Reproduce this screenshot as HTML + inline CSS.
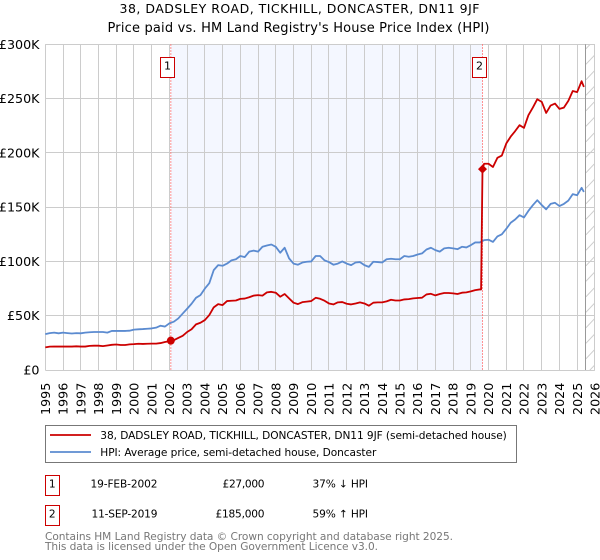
<!DOCTYPE html>
<html>
<head>
<meta charset="utf-8">
<title>38, Dadsley Road price chart</title>
<style>
html,body{margin:0;padding:0;background:#fff;}
svg{display:block;}
text{font-family:"DejaVu Sans","Liberation Sans",sans-serif;fill:#000;}
</style>
</head>
<body>
<svg id="chart" xmlns="http://www.w3.org/2000/svg" width="600" height="560" viewBox="0 0 600 560">
  <text x="119.5" y="13" font-size="12.5" textLength="360" lengthAdjust="spacing">38, DADSLEY ROAD, TICKHILL, DONCASTER, DN11 9JF</text>
  <text x="107.5" y="32" font-size="13" textLength="382" lengthAdjust="spacing">Price paid vs. HM Land Registry's House Price Index (HPI)</text>
  <g id="layer-band"></g>
  <g id="layer-grid"></g>
  <g id="layer-series"></g>
  <g id="layer-ticks"></g>

  <g>
    <rect x="45.5" y="425.5" width="471" height="37" fill="#fff" stroke="#777" stroke-width="1"/>
    <line x1="50" x2="91" y1="435" y2="435" stroke="#cc0000" stroke-width="1.8"/>
    <text x="100.3" y="439" font-size="10.6" textLength="406.5" lengthAdjust="spacing">38, DADSLEY ROAD, TICKHILL, DONCASTER, DN11 9JF (semi-detached house)</text>
    <line x1="50" x2="91" y1="452" y2="452" stroke="#5b8bd0" stroke-width="1.8"/>
    <text x="100.3" y="456" font-size="10.6" textLength="276" lengthAdjust="spacing">HPI: Average price, semi-detached house, Doncaster</text>
  </g>

  <g>
    <rect x="45.5" y="475.5" width="14" height="20" fill="#fff" stroke="#cc0000" stroke-width="1"/>
    <text x="52.3" y="487.5" text-anchor="middle" font-size="10.6">1</text>
    <text x="90.5" y="487.5" font-size="10.6" textLength="67" lengthAdjust="spacing">19-FEB-2002</text>
    <text x="222.5" y="487.5" font-size="10.6" textLength="42" lengthAdjust="spacing">£27,000</text>
    <text x="312.5" y="487.5" font-size="10.6" textLength="55.5" lengthAdjust="spacing">37% ↓ HPI</text>
    <rect x="45.5" y="505.5" width="14" height="20" fill="#fff" stroke="#cc0000" stroke-width="1"/>
    <text x="52.3" y="517.5" text-anchor="middle" font-size="10.6">2</text>
    <text x="91.5" y="517.5" font-size="10.6" textLength="66" lengthAdjust="spacing">11-SEP-2019</text>
    <text x="215.5" y="517.5" font-size="10.6" textLength="49" lengthAdjust="spacing">£185,000</text>
    <text x="312.5" y="517.5" font-size="10.6" textLength="55.5" lengthAdjust="spacing">59% ↑ HPI</text>
  </g>

  <text x="45" y="540" font-size="10.6" textLength="408" lengthAdjust="spacing" style="fill:#777">Contains HM Land Registry data © Crown copyright and database right 2025.</text>
  <text x="45" y="550" font-size="10.6" textLength="333" lengthAdjust="spacing" style="fill:#777">This data is licensed under the Open Government Licence v3.0.</text>
</svg>

<script>
// ---- chart data (values in thousands of pounds) ----
var xTickYears = [1995,1996,1997,1998,1999,2000,2001,2002,2003,2004,2005,2006,2007,2008,2009,2010,2011,2012,2013,2014,2015,2016,2017,2018,2019,2020,2021,2022,2023,2024,2025,2026];
var yTickValues = [0,50,100,150,200,250,300];
var yTickLabels = ['£0','£50K','£100K','£150K','£200K','£250K','£300K'];

var firstYear = 1995;
var stepYears = 0.25;
var lastDataYear = 2025.38;

// HPI: quarterly from 1995.00, final entry is the last data month
var hpiValues = [
33.0,34.0,34.4,33.8, 34.4,34.0,33.6,34.0, 33.8,34.4,34.8,35.0, 35.0,35.0,34.4,36.0,
36.0,36.0,36.0,36.2, 37.2,37.5,37.7,38.0, 38.3,39.0,40.8,40.0, 43.0,44.5,47.5,52.0,
56.4,61.0,66.5,69.0, 75.0,80.0,92.0,96.6, 96.0,98.0,101.0,102.0, 105.0,104.0,109.0,110.0,
109.0,113.5,114.7,115.6, 113.5,108.0,112.6,102.8, 98.0,97.0,99.0,99.7, 100.0,105.0,105.0,101.0,
99.4,97.0,98.0,100.0, 98.0,96.6,99.0,99.4, 96.6,95.0,99.7,99.4, 99.0,102.0,102.5,102.0,
102.0,105.0,104.3,105.0, 106.4,107.4,111.0,112.6, 110.4,109.0,112.0,112.6, 112.0,111.3,113.5,112.9,
115.0,117.5,117.5,119.6, 120.0,118.0,123.0,125.0, 130.0,135.6,138.6,142.6, 140.5,146.6,151.8,156.4,
152.0,148.0,153.0,154.0, 151.0,153.0,156.0,162.0, 161.0,167.8,164.0
];

// Price paid before the 2019 sale: quarterly from 1995.00 to 2019.50
var priceBeforeSale = [
20.8,21.5,21.6,21.6, 21.6,21.6,21.6,21.8, 21.6,21.6,22.2,22.4, 22.4,22.0,22.6,23.2,
23.5,23.0,23.0,23.6, 23.8,24.2,24.0,24.2, 24.3,24.3,24.8,25.8, 26.5,27.5,29.5,31.5,
35.0,37.5,42.0,43.5, 46.0,50.6,57.7,60.7, 59.8,63.5,63.8,64.0, 65.5,65.8,67.0,68.5,
69.0,68.5,71.5,72.0, 71.2,67.5,70.0,66.0, 62.0,60.7,62.5,63.0, 63.5,66.5,65.6,63.8,
61.3,60.4,62.3,62.6, 61.0,60.4,61.3,62.3, 61.3,59.2,62.0,62.3, 62.3,63.2,64.7,64.0,
64.0,65.0,65.3,66.0, 66.3,66.6,69.6,70.2, 68.7,70.0,70.9,70.9, 70.6,70.0,71.2,71.5,
72.4,73.6,74.2
];

// Price paid after the 2019 sale: quarterly from 2019.75, final entry is the last data month
var priceAfterSale = [
190.0,190.0,187.0,195.4,197.5, 208.6,215.0,220.0,225.5, 223.0,234.7,241.7,249.4,
247.0,236.8,243.6,245.4, 240.5,241.7,247.9,257.0, 256.0,266.0,260.7
];

var saleYears = [2002.08, 2019.66];
var saleValues = [27, 185];
var saleLabels = ['1', '2'];

// ---- axes ----
var plotLeft = 45.3, plotRight = 594.9, plotTop = 44.3, plotBottom = 370;
function xScale(year) { return plotLeft + (year - 1995) * (plotRight - plotLeft) / 31; }
function yScale(value) { return plotBottom - value * (plotBottom - plotTop) / 300; }

var SVG_NS = 'http://www.w3.org/2000/svg';
function make(tag, attrs, parent) {
  var el = document.createElementNS(SVG_NS, tag);
  for (var k in attrs) el.setAttribute(k, attrs[k]);
  parent.appendChild(el);
  return el;
}
function snap(v) { return Math.round(v - 0.5) + 0.5; }
function pathFrom(points) {
  return points.map(function (p, i) {
    return (i ? 'L' : 'M') + xScale(p[0]).toFixed(2) + ' ' + yScale(p[1]).toFixed(2);
  }).join(' ');
}

var bandLayer = document.getElementById('layer-band');
var gridLayer = document.getElementById('layer-grid');
var seriesLayer = document.getElementById('layer-series');
var tickLayer = document.getElementById('layer-ticks');

// ownership band
var bandEl = make('rect', {x: xScale(saleYears[0]), y: plotTop, width: xScale(saleYears[1]) - xScale(saleYears[0]), height: plotBottom - plotTop, fill: '#f4f7ff'}, bandLayer);



// grid + x tick labels
xTickYears.forEach(function (year) {
  var gx = snap(xScale(year));
  var line = make('line', {x1: gx, x2: gx, y1: plotTop, y2: plotBottom, stroke: '#cccccc', 'stroke-width': 1}, gridLayer);
  
  
  var label = make('text', {x: 0, y: 0, 'font-size': 12.7, 'text-anchor': 'start', transform: 'translate(' + (xScale(year) + 4.6) + ',415) rotate(-90)'}, tickLayer);
  label.textContent = String(year);
  
  
});

yTickValues.forEach(function (value, i) {
  var gy = snap(yScale(value));
  var line = make('line', {x1: plotLeft, x2: plotRight, y1: gy, y2: gy, stroke: '#cccccc', 'stroke-width': 1}, gridLayer);
  
  
  var label = make('text', {x: 39.5, y: yScale(value) + 4.5, 'font-size': 12.7, 'text-anchor': 'end'}, tickLayer);
  label.textContent = yTickLabels[i];
  
  
});

// forecast hatch + end-of-data line
var endX = xScale(lastDataYear) + 2;
var hatchGroup = make('g', {}, gridLayer);


var clip = make('clipPath', {id: 'hatch-clip'}, hatchGroup);
make('rect', {x: endX, y: plotTop, width: plotRight - endX, height: plotBottom - plotTop}, clip);
var hatchLines = make('g', {'clip-path': 'url(#hatch-clip)'}, hatchGroup);
for (var hy = plotTop - 5; hy < plotBottom + 15; hy += 15.5) {
  make('line', {x1: endX, x2: plotRight, y1: hy + 9.5, y2: hy, stroke: '#cccccc', 'stroke-width': 1}, hatchLines);
}
var endLine = make('line', {x1: snap(endX), x2: snap(endX), y1: plotTop, y2: plotBottom, stroke: '#999999', 'stroke-width': 1}, gridLayer);



// sale guide lines
saleYears.forEach(function (year) {
  var guide = make('line', {x1: xScale(year), x2: xScale(year), y1: plotTop, y2: plotBottom, stroke: '#ff7070', 'stroke-width': 1, 'stroke-dasharray': '1.5 1.5'}, gridLayer);
  
  
});

// series points
function dateAt(i, count) {
  return i === count - 1 ? lastDataYear : firstYear + i * stepYears;
}
var hpiPoints = hpiValues.map(function (v, i) { return [dateAt(i, hpiValues.length), v]; });
var pricePoints = priceBeforeSale.map(function (v, i) { return [firstYear + i * stepYears, v]; });
pricePoints.push([saleYears[1] - 0.08, priceBeforeSale[priceBeforeSale.length - 1]]);
pricePoints.push([saleYears[1], saleValues[1]]);
priceAfterSale.forEach(function (v, i) {
  var y = i === priceAfterSale.length - 1 ? lastDataYear : 2019.75 + i * stepYears;
  pricePoints.push([y, v]);
});

var hpiPath = make('path', {d: pathFrom(hpiPoints), fill: 'none', stroke: '#5b8bd0', 'stroke-width': 1.8, 'stroke-linejoin': 'round'}, seriesLayer);



var pricePath = make('path', {d: pathFrom(pricePoints), fill: 'none', stroke: '#cc0000', 'stroke-width': 1.8, 'stroke-linejoin': 'round'}, seriesLayer);



// sale markers and numbered badges
var circleMark = make('circle', {cx: xScale(saleYears[0]), cy: yScale(saleValues[0]), r: 4, fill: '#cc0000'}, seriesLayer);



var dx = xScale(saleYears[1]), dy = yScale(saleValues[1]);
var diamondMark = make('polygon', {points: (dx - 4.5) + ',' + dy + ' ' + dx + ',' + (dy - 4.5) + ' ' + (dx + 4.5) + ',' + dy + ' ' + dx + ',' + (dy + 4.5), fill: '#cc0000'}, seriesLayer);



saleYears.forEach(function (year, i) {
  var bx = snap(xScale(year) - 10);
  var badge = make('rect', {x: bx, y: 57.5, width: 14, height: 20, fill: '#fff', stroke: '#cc0000', 'stroke-width': 1}, seriesLayer);
  
  
  var num = make('text', {x: bx + 7, y: 69.5, 'font-size': 11, 'text-anchor': 'middle'}, seriesLayer);
  num.textContent = saleLabels[i];
  
  
});
</script>
</body>
</html>
